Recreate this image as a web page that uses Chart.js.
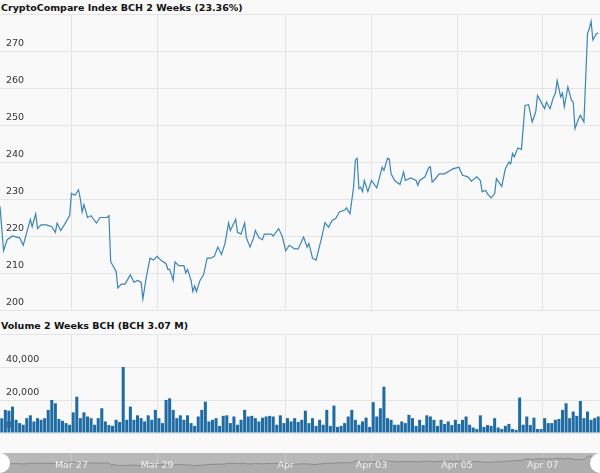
<!DOCTYPE html>
<html>
<head>
<meta charset="utf-8">
<script src="https://cdn.jsdelivr.net/npm/chart.js@4/dist/chart.umd.min.js"></script>
<style>
body{margin:0;background:#f9f9f9;width:600px;height:473px;overflow:hidden;position:relative;font-family:"DejaVu Sans",Verdana,sans-serif}
.title{position:absolute;left:1px;font-size:9.5px;font-weight:bold;color:#111}
.box{position:absolute;left:0;width:600px}
.handle{position:absolute;width:20px;height:20px;border-radius:50%;background:#fff;top:453px}
</style>
</head>
<body>
<div class="title" style="top:2px">CryptoCompare Index BCH 2 Weeks (23.36%)</div>
<div class="box" style="top:0;height:312px"><canvas id="priceChart"></canvas></div>
<div class="title" style="top:320px">Volume 2 Weeks BCH (BCH 3.07 M)</div>
<div class="box" style="top:330px;height:105px"><canvas id="volumeChart"></canvas></div>
<div class="box" style="top:453px;height:20px"><canvas id="navChart"></canvas></div>
<div class="handle" style="left:-10px"></div>
<div class="handle" style="left:590px"></div>
<script>
// hours since Mar 25 08:00
const priceHours = [0,2,4,7,11,13,15,17,18,20,21,23,26,29,31,32,34,36,39,40,42,44,45,46,47,49,51,54,56,58,60,61,62,65,66,68,70,73,75,77,79,80,82,84,86,88,90,93,94,95,97,98,100,103,104,105,107,108,109,110,112,114,116,118,120,122,124,126,128,129,132,133,135,137,138,140,142,143,145,147,148,152,153,156,158,160,162,165,167,170,172,173,175,177,180,182,184,186,188,190,193,194,196,198,199,200,201,202,203,204,206,208,211,214,215,217,218,219,221,224,226,227,230,233,234,235,238,240,241,242,243,246,249,252,254,257,259,262,264,267,269,270,272,273,275,277,278,281,283,285,286,287,288,290,292,294,296,298,300,301,304,305,306,308,310,311,312,314,315,316,318,320,321,322,324,325,327,329,330,331,332,334,335];
const priceValues = [228,216,219,220,219.5,217.5,221,224.5,222.5,226,222,223,223,222.5,221,223.5,221.5,223,225.5,231.5,231,232.5,230,226.5,228.5,225,225.5,223.5,225,225,225,225.5,213,210.5,206,207,207,209.5,207.5,208,207.5,203,209,214,213.5,214.5,213.5,212.5,211,211,208,213,212,212,210,211,208,205,206.5,205,208,209.5,214,214,214.5,217,215,218,223.5,221.5,224.5,221,220.5,223.5,219.5,217,219.5,221.5,219.5,219,220.5,220.5,220,222,220,216,217.5,216.5,216.5,219.7,217,218,214,213.5,219.3,223.6,222.4,224.2,224.7,226.5,227,227.6,226,233.2,240.5,241,232.8,233.2,232,235,232,235,233,238.6,237.7,241,240.8,236.8,235,233.9,237.3,235,235.7,235,233.7,235,236,238.4,238.7,234.6,235,236.8,236.8,237.7,238.2,238.6,236.4,236,234.8,236,235,232,232.3,231.4,230.3,231.4,235.5,233.4,238.2,240,239.5,242.3,241.4,243.8,243.4,255.3,255.5,250.8,253.5,258,255.3,254.4,256.2,254.4,257.6,258.5,262,257.6,258.6,254.9,260.3,256.7,256.2,249,251.7,252.6,250.8,274.7,276,278,273,274.7,274.9];

// 2-hour volume bins
const volumeValues = [8900,14000,13500,16000,8000,6000,5000,9000,10700,7000,9000,8000,9000,14000,20000,18000,8500,7400,6000,5000,12500,22000,9000,12500,10000,9000,5000,9000,15000,7000,4800,4300,8000,6700,40000,8000,16000,8000,10700,9000,7000,10700,8000,14000,9000,6000,20000,21000,14000,9000,10700,8000,10700,6000,4300,10000,14000,19000,7000,8000,9000,4300,10400,10700,6000,10000,5000,8000,14000,10000,10400,9000,7000,9300,10000,10400,10000,5000,10700,6000,9000,7000,9000,6700,8000,13500,6000,9000,4300,8000,
5000,14000,4300,16600,3700,4300,6000,10000,14000,8000,5000,7000,9300,3700,18700,10000,15000,28000,9000,8000,5000,5000,7000,6000,11000,9000,4300,8000,4800,10700,10000,8000,4300,8000,5500,7000,4800,8000,5500,8000,10000,5000,3300,2400,10700,3700,4800,4300,9000,3300,2400,4300,5500,2400,1900,21500,5000,10000,4800,9300,2400,2400,9000,6000,6000,8000,8500,14000,18000,9000,13000,10400,19400,9000,13000,8000,9000,10000,16000,12000,7000,7000,17000,9000,13500,13500,48000,19600,11000,8500];
const volumeHours = volumeValues.map((v, i) => i * 2 + 1);

const dateTicks = [40, 88, 160, 208, 256, 304];
const dateLabels = ["Mar 27", "Mar 29", "Apr", "Apr 03", "Apr 05", "Apr 07"];

const gridColor = "#e4e4e4";
const tickFont = {family: "DejaVu Sans", size: 9.5};

function pairs(xs, ys){
    return xs.map((x, i) => ({x: x, y: ys[i]}));
}

function timeAxis(lineColor){
    return {
        type: "linear", min: 0, max: 336, offset: false,
        afterBuildTicks: s => { s.ticks = dateTicks.map(v => ({value: v})); },
        afterFit: s => { s.height = 0; s.paddingLeft = 0; s.paddingRight = 0; },
        grid: {color: lineColor || gridColor, drawTicks: false, offset: false},
        border: {display: false},
        ticks: {display: false}
    };
}

function valueAxis(min, max, step, fmt){
    return {
        min: min, max: max,
        afterFit: s => { s.width = 0; s.paddingTop = 0; s.paddingBottom = 0; },
        grid: {color: gridColor, drawTicks: false},
        border: {display: false},
        ticks: {
            stepSize: step, mirror: true, labelOffset: -7, padding: 6,
            autoSkip: false,
            font: tickFont, color: "#333",
            callback: v => v === max ? "" : fmt(v)
        }
    };
}

Chart.defaults.animation = false;
Chart.defaults.maintainAspectRatio = false;
Chart.defaults.plugins.legend.display = false;
Chart.defaults.plugins.tooltip.enabled = false;

new Chart(document.getElementById("priceChart"), {
    type: "line",
    data: {datasets: [{
        data: pairs(priceHours, priceValues),
        borderColor: "#3a85b8", borderWidth: 1.2, pointRadius: 0, tension: 0
    }]},
    options: {
        layout: {padding: {top: 14, bottom: 2}},
        scales: {
            x: timeAxis(),
            y: valueAxis(200, 280, 10, v => v)
        }
    }
});

const volumeY = valueAxis(0, 60000, 20000, v => v === 0 ? "0" : v.toLocaleString("en-US"));
volumeY.z = 1;

new Chart(document.getElementById("volumeChart"), {
    type: "bar",
    data: {datasets: [{
        data: pairs(volumeHours, volumeValues),
        backgroundColor: "#1f6ba3",
        barPercentage: 0.85, categoryPercentage: 1
    }]},
    options: {
        layout: {padding: {top: 4, bottom: 2}},
        scales: {
            x: timeAxis(),
            y: volumeY
        }
    }
});

new Chart(document.getElementById("navChart"), {
    type: "line",
    data: {datasets: [{
        data: pairs(priceHours, priceValues),
        borderColor: "#8c8c8c", borderWidth: 1, pointRadius: 0,
        fill: "start", backgroundColor: "#adadad"
    }]},
    plugins: [{
        id: "navBg",
        beforeDraw: c => {
            c.ctx.fillStyle = "#b8b8b8";
            c.ctx.fillRect(0, 0, c.width, c.height);
        },
        afterDraw: c => {
            const ctx = c.ctx, x = c.scales.x;
            ctx.save();
            ctx.font = "9.5px 'DejaVu Sans'";
            ctx.fillStyle = "#efefef";
            ctx.textAlign = "center";
            ctx.textBaseline = "middle";
            dateTicks.forEach((t, i) => ctx.fillText(dateLabels[i], x.getPixelForValue(t), 13));
            ctx.restore();
        }
    }],
    options: {
        layout: {padding: 0},
        scales: {
            x: timeAxis("#c6c6c6"),
            y: {display: false, min: 150, max: 300}
        }
    }
});
</script>
</body>
</html>
